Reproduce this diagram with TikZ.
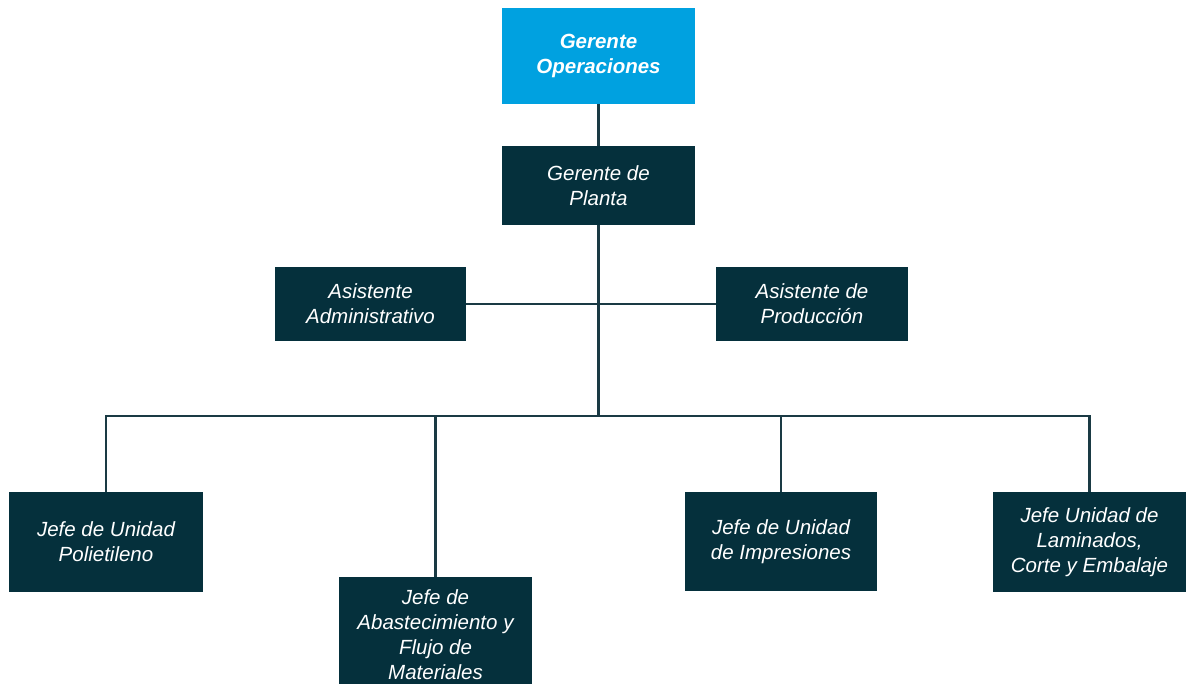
\documentclass[tikz,border=0pt]{standalone}
\usepackage{fontspec}
\setmainfont{Liberation Sans}
\definecolor{boxdark}{HTML}{05303C}
\definecolor{boxblue}{HTML}{00A1E0}
\definecolor{wire}{HTML}{1A3A44}
\begin{document}
\begin{tikzpicture}[x=1pt,y=-1pt,
  unit/.style={fill=boxdark, text=white, align=center, inner sep=0pt,
    font=\fontsize{20.5}{25}\selectfont\itshape},
  headbox/.style={unit, fill=boxblue, font=\fontsize{20.5}{25}\selectfont\bfseries\itshape},
  link/.style={draw=wire, line width=2.4pt}]
\useasboundingbox (0,0) rectangle (1186,684);
\clip (0,0) rectangle (1186,684);

% management
\node[headbox, minimum width=193pt, minimum height=96pt] (ger) at (598.5,56) {Gerente\\Operaciones};
\node[unit, minimum width=193pt, minimum height=79pt] (planta) at (598.5,185.5) {Gerente de\\Planta};

% staff assistants
\node[unit, minimum width=191pt, minimum height=74pt] (adm) at (370.5,304) {Asistente\\Administrativo};
\node[unit, minimum width=192pt, minimum height=74pt] (prod) at (812,304) {Asistente de\\Producción};

% unit heads
\node[unit, minimum width=194pt, minimum height=100pt] (poli) at (106,542) {Jefe de Unidad\\Polietileno};
\node[unit, minimum width=193pt, minimum height=115pt] (abast) at (435.5,634.5) {Jefe de\\Abastecimiento y\\Flujo de\\Materiales};
\node[unit, minimum width=192pt, minimum height=99pt] (impr) at (781,541.5) {Jefe de Unidad\\de Impresiones};
\node[unit, minimum width=193pt, minimum height=100pt] (lam) at (1089.5,542) {Jefe Unidad de\\Laminados,\\Corte y Embalaje};

\coordinate (bus) at (598.5,416);

% connectors
\draw[link] (ger.south) -- (planta.north);
\draw[link] (planta.south) -- (bus);
\draw[link] (adm.east) -- (prod.west);
\draw[link] (bus) -| (poli.north);
\draw[link] (bus) -| (abast.north);
\draw[link] (bus) -| (impr.north);
\draw[link] (bus) -| (lam.north);
\end{tikzpicture}
\end{document}
